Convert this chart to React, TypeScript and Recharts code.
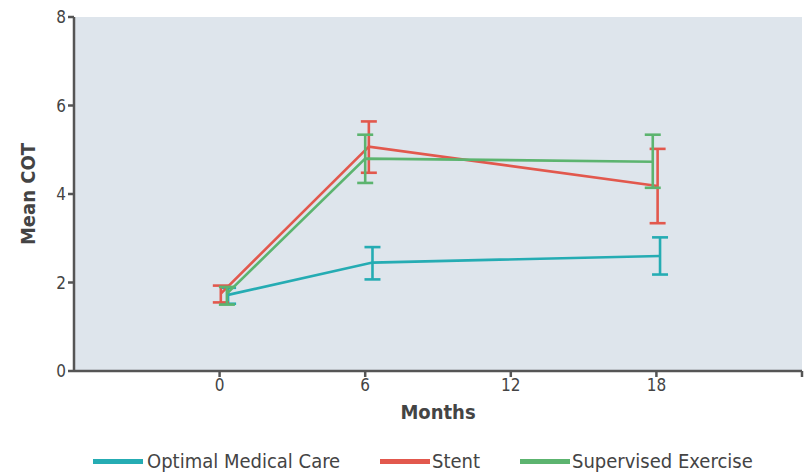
import React from "react"
import { CartesianGrid, ErrorBar, Line, LineChart, XAxis, YAxis } from "recharts"

// months are slightly dodged per group, as in the figure
const omcMonths = [0.35, 6.3, 18.15]
const omcMean = [1.72, 2.45, 2.6]
const omcLow = [1.52, 2.07, 2.18]
const omcHigh = [1.88, 2.8, 3.02]

const stentMonths = [0.05, 6.15, 18.05]
const stentMean = [1.75, 5.07, 4.18]
const stentLow = [1.55, 4.48, 3.34]
const stentHigh = [1.93, 5.64, 5.02]

const exMonths = [0.3, 6.0, 17.85]
const exMean = [1.75, 4.8, 4.73]
const exLow = [1.5, 4.25, 4.14]
const exHigh = [1.9, 5.34, 5.34]

const xTicks = [0, 6, 12, 18, 24]
const yTicks = [0, 2, 4, 6, 8]

const FONT = "'Liberation Sans Narrow', 'DejaVu Sans Condensed', 'Open Sans', sans-serif"
const AXIS = "#555"
const TEXT = "#444"

function build(months: number[], mean: number[], low: number[], high: number[]) {
  return months.map((x, i) => ({ x, y: mean[i], err: [mean[i] - low[i], high[i] - mean[i]] }))
}

const series = [
  { name: "Optimal Medical Care", color: "#25acb3", data: build(omcMonths, omcMean, omcLow, omcHigh) },
  { name: "Stent", color: "#e2584d", data: build(stentMonths, stentMean, stentLow, stentHigh) },
  { name: "Supervised Exercise", color: "#5cb46f", data: build(exMonths, exMean, exLow, exHigh) },
]

const legendPos = [
  { swatch: 93, text: 147 },
  { swatch: 380, text: 432 },
  { swatch: 520, text: 572 },
]

export default function App() {
  return (
    <div style={{ position: "absolute", left: 0, top: 0, width: 811, height: 474, background: "#fff", fontFamily: FONT }}>
      <LineChart width={811} height={474} margin={{ top: 17, right: 9, left: 0, bottom: 0 }}>
        <CartesianGrid fill="#dee5ec" stroke="none" horizontal={false} vertical={false} />
        <XAxis
          type="number"
          dataKey="x"
          domain={[-6, 24]}
          ticks={xTicks}
          tickFormatter={(v: number) => (v === 24 ? "" : String(v))}
          height={103}
          stroke={AXIS}
          strokeWidth={2.5}
          tickSize={6}
          tick={{ fill: TEXT, fontSize: 17, fontFamily: FONT }}
          label={{ value: "Months", position: "insideTop", offset: 34, fill: TEXT, fontSize: 20, fontWeight: 600, fontFamily: FONT }}
          allowDataOverflow
        />
        <YAxis
          type="number"
          domain={[0, 8]}
          ticks={yTicks}
          width={74}
          stroke={AXIS}
          strokeWidth={2.5}
          tickSize={6}
          tick={{ fill: TEXT, fontSize: 17, fontFamily: FONT }}
          label={{ value: "Mean COT", angle: -90, position: "insideLeft", offset: 28, fill: TEXT, fontSize: 20, fontWeight: 600, fontFamily: FONT, style: { textAnchor: "middle" } }}
        />
        {series.map((s) => (
          <Line
            key={s.name}
            data={s.data}
            dataKey="y"
            name={s.name}
            stroke={s.color}
            strokeWidth={2.6}
            dot={false}
            activeDot={false}
            isAnimationActive={false}
          >
            <ErrorBar dataKey="err" direction="y" width={8} stroke={s.color} strokeWidth={2.6} isAnimationActive={false} />
          </Line>
        ))}
      </LineChart>
      {series.map((s, i) => (
        <React.Fragment key={s.name}>
          <div style={{ position: "absolute", left: legendPos[i].swatch, top: 459, width: 50, height: 5, background: s.color }} />
          <div style={{ position: "absolute", left: legendPos[i].text, top: 449, fontSize: 20, color: TEXT, lineHeight: "24px", whiteSpace: "nowrap" }}>
            {s.name}
          </div>
        </React.Fragment>
      ))}
    </div>
  )
}
